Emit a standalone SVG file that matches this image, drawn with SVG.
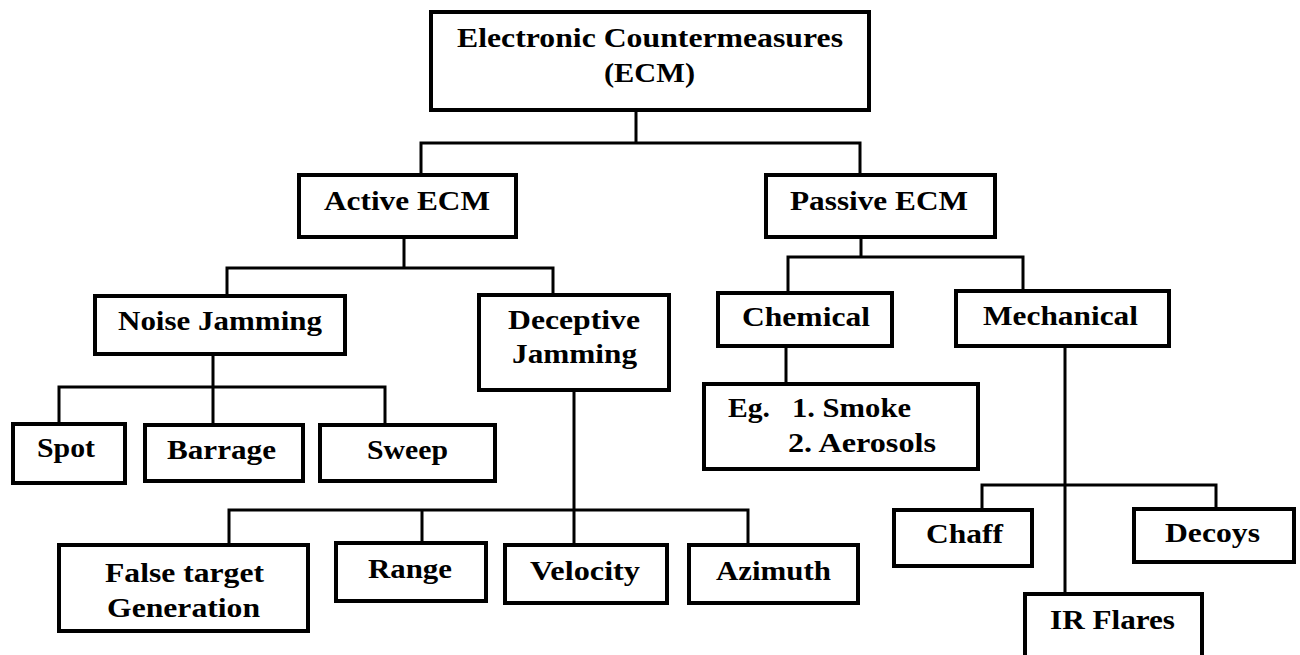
<svg xmlns="http://www.w3.org/2000/svg" width="1300" height="655" viewBox="0 0 1300 655">
  <style>
    .box { fill: #ffffff; stroke: #000000; stroke-width: 4; }
    .wire { fill: none; stroke: #000000; stroke-width: 3; stroke-linecap: square; }
    .lbl { font-family: "Liberation Serif", "Times New Roman", serif; font-weight: bold; font-size: 27px; fill: #000000; }
  </style>
  <rect width="1300" height="655" fill="#ffffff"/>

  <!-- tree connectors -->
  <g id="connectors" class="wire">
    <path d="M636 112 V143 M421 143 H860 M421 143 V173 M860 143 V173"/>
    <path d="M404 239 V268 M227 268 H553 M227 268 V294 M553 268 V293"/>
    <path d="M213 356 V387 M59 387 H385 M59 387 V423 M213 387 V423 M385 387 V423"/>
    <path d="M574 392 V543 M229 510 H748 M229 510 V543 M422 510 V541 M748 510 V543"/>
    <path d="M861 239 V257 M788 257 H1023 M788 257 V291 M1023 257 V289"/>
    <path d="M786 348 V382"/>
    <path d="M1065 348 V593 M982 485 H1216 M982 485 V508 M1216 485 V507"/>
  </g>

  <g id="ecm">
    <rect class="box" x="431" y="12" width="438" height="98"/>
    <text class="lbl" x="457" y="47" textLength="386" lengthAdjust="spacingAndGlyphs">Electronic Countermeasures</text>
    <text class="lbl" x="604" y="82" textLength="91" lengthAdjust="spacingAndGlyphs">(ECM)</text>
  </g>

  <g id="active-ecm">
    <rect class="box" x="299" y="175" width="217" height="62"/>
    <text class="lbl" x="324" y="210" textLength="166" lengthAdjust="spacingAndGlyphs">Active ECM</text>
  </g>

  <g id="passive-ecm">
    <rect class="box" x="766" y="175" width="229" height="62"/>
    <text class="lbl" x="790" y="210" textLength="178" lengthAdjust="spacingAndGlyphs">Passive ECM</text>
  </g>

  <g id="noise-jamming">
    <rect class="box" x="95" y="296" width="250" height="58"/>
    <text class="lbl" x="118" y="330" textLength="204" lengthAdjust="spacingAndGlyphs">Noise Jamming</text>
  </g>

  <g id="deceptive-jamming">
    <rect class="box" x="479" y="295" width="190" height="95"/>
    <text class="lbl" x="508" y="329" textLength="132" lengthAdjust="spacingAndGlyphs">Deceptive</text>
    <text class="lbl" x="512" y="363" textLength="125" lengthAdjust="spacingAndGlyphs">Jamming</text>
  </g>

  <g id="spot">
    <rect class="box" x="13" y="424" width="112" height="59"/>
    <text class="lbl" x="37" y="457" textLength="58" lengthAdjust="spacingAndGlyphs">Spot</text>
  </g>

  <g id="barrage">
    <rect class="box" x="145" y="425" width="158" height="56"/>
    <text class="lbl" x="167" y="459" textLength="109" lengthAdjust="spacingAndGlyphs">Barrage</text>
  </g>

  <g id="sweep">
    <rect class="box" x="320" y="425" width="175" height="56"/>
    <text class="lbl" x="367" y="459" textLength="81" lengthAdjust="spacingAndGlyphs">Sweep</text>
  </g>

  <g id="false-target">
    <rect class="box" x="59" y="545" width="249" height="86"/>
    <text class="lbl" x="105" y="582" textLength="159" lengthAdjust="spacingAndGlyphs">False target</text>
    <text class="lbl" x="107" y="617" textLength="153" lengthAdjust="spacingAndGlyphs">Generation</text>
  </g>

  <g id="range">
    <rect class="box" x="336" y="543" width="150" height="58"/>
    <text class="lbl" x="368" y="578" textLength="84" lengthAdjust="spacingAndGlyphs">Range</text>
  </g>

  <g id="velocity">
    <rect class="box" x="505" y="545" width="162" height="58"/>
    <text class="lbl" x="530" y="580" textLength="110" lengthAdjust="spacingAndGlyphs">Velocity</text>
  </g>

  <g id="azimuth">
    <rect class="box" x="689" y="545" width="169" height="58"/>
    <text class="lbl" x="716" y="580" textLength="115" lengthAdjust="spacingAndGlyphs">Azimuth</text>
  </g>

  <g id="chemical">
    <rect class="box" x="718" y="293" width="174" height="53"/>
    <text class="lbl" x="742" y="326" textLength="128" lengthAdjust="spacingAndGlyphs">Chemical</text>
  </g>

  <g id="mechanical">
    <rect class="box" x="956" y="291" width="213" height="55"/>
    <text class="lbl" x="983" y="325" textLength="155" lengthAdjust="spacingAndGlyphs">Mechanical</text>
  </g>

  <g id="chemical-examples">
    <rect class="box" x="704" y="384" width="274" height="85"/>
    <text class="lbl" x="728" y="417" textLength="42" lengthAdjust="spacingAndGlyphs">Eg.</text>
    <text class="lbl" x="792" y="417" textLength="119" lengthAdjust="spacingAndGlyphs">1. Smoke</text>
    <text class="lbl" x="788" y="452" textLength="148" lengthAdjust="spacingAndGlyphs">2. Aerosols</text>
  </g>

  <g id="chaff">
    <rect class="box" x="894" y="510" width="138" height="56"/>
    <text class="lbl" x="926" y="543" textLength="77" lengthAdjust="spacingAndGlyphs">Chaff</text>
  </g>

  <g id="decoys">
    <rect class="box" x="1134" y="509" width="160" height="53"/>
    <text class="lbl" x="1165" y="542" textLength="95" lengthAdjust="spacingAndGlyphs">Decoys</text>
  </g>

  <g id="ir-flares">
    <rect class="box" x="1025" y="594" width="177" height="70"/>
    <text class="lbl" x="1050" y="629" textLength="125" lengthAdjust="spacingAndGlyphs">IR Flares</text>
  </g>
</svg>
